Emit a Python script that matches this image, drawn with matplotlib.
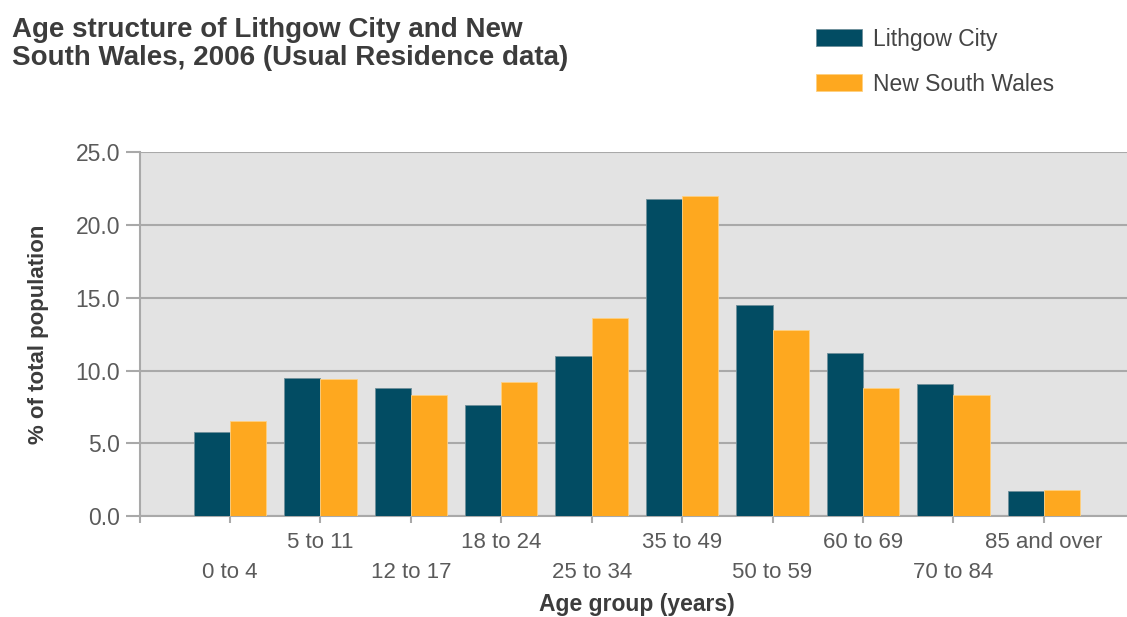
import matplotlib
matplotlib.use("Agg")
import matplotlib.pyplot as plt
import numpy as np
from matplotlib.patches import Patch
from matplotlib.transforms import ScaledTranslation

plt.rcParams["font.family"] = ["Liberation Sans", "DejaVu Sans"]

# ---- data ---------------------------------------------------------------------
age_groups = ["0 to 4", "5 to 11", "12 to 17", "18 to 24", "25 to 34",
              "35 to 49", "50 to 59", "60 to 69", "70 to 84", "85 and over"]
lithgow = [5.8, 9.5, 8.8, 7.6, 11.0, 21.8, 14.5, 11.2, 9.1, 1.7]
nsw = [6.5, 9.4, 8.3, 9.2, 13.6, 22.0, 12.8, 8.8, 8.3, 1.8]
y_ticks = [0, 5, 10, 15, 20, 25]

TEAL = "#024c63"
ORANGE = "#fea81f"
GRID = "#a9a9a9"
TEXT = "#3c3c3c"
TICK_TEXT = "#5a5a5a"

fig = plt.figure(figsize=(11.27, 6.17), dpi=100)
ax = fig.add_axes([0.1238, 0.1637, 0.8762, 0.5895])
ax.set_facecolor("#e3e3e3")

x = np.arange(len(age_groups))
w = 0.4
ax.bar(x - w / 2, lithgow, w, color=TEAL, edgecolor="#6f8f9a", linewidth=0.6, zorder=3)
ax.bar(x + w / 2, nsw, w, color=ORANGE, edgecolor="#ffd080", linewidth=0.6, zorder=3)

ax.set_xlim(-1, 9.92)
ax.set_ylim(0, 25)
ax.set_yticks(y_ticks)
ax.set_yticklabels([f"{v:.1f}" for v in y_ticks])
ax.yaxis.grid(True, color=GRID, linewidth=1.5, zorder=0)
ax.set_axisbelow(True)

for side in ("top", "right"):
    ax.spines[side].set_visible(False)
for side in ("left", "bottom"):
    ax.spines[side].set_color(GRID)
    ax.spines[side].set_linewidth(1.5)

ax.tick_params(axis="y", length=10, width=1.5, color=GRID, pad=4,
               labelsize=16.5, labelcolor=TICK_TEXT)
ax.tick_params(axis="x", length=5, width=1.5, color=GRID, pad=6.5,
               labelsize=16, labelcolor=TICK_TEXT)

# tick at the group centres, labels staggered on two rows
ax.set_xticks(x)
ax.set_xticklabels(age_groups)
ax.set_xticks([-1], minor=True)
ax.tick_params(axis="x", which="minor", length=5, width=1.5, color=GRID)
shift = ScaledTranslation(0, -0.30, fig.dpi_scale_trans)
for i, lbl in enumerate(ax.get_xticklabels()):
    if i % 2 == 0:
        lbl.set_transform(lbl.get_transform() + shift)

ax.set_xlabel("Age group (years)", fontsize=16.5, fontweight="bold", color=TEXT)
ax.xaxis.set_label_coords(0.565, 0.02, transform=fig.transFigure)
ax.xaxis.label.set_va("center")
ax.set_ylabel("% of total population", fontsize=16, fontweight="bold", color=TEXT)
ax.yaxis.set_label_coords(0.034, 0.458, transform=fig.transFigure)
ax.yaxis.label.set_va("center")

fig.text(0.011, 0.973, "Age structure of Lithgow City and New\nSouth Wales, 2006 (Usual Residence data)",
         fontsize=20, fontweight="bold", color=TEXT, va="top", ha="left", linespacing=1.14)

handles = [Patch(facecolor=TEAL, edgecolor="#6f8f9a", linewidth=0.6),
           Patch(facecolor=ORANGE, edgecolor="#ffd080", linewidth=0.6)]
fig.legend(handles, ["Lithgow City", "New South Wales"], loc="upper left",
           bbox_to_anchor=(0.724, 0.955), frameon=False, fontsize=16.5,
           handlelength=2.0, handleheight=0.75, handletextpad=0.5,
           labelspacing=0.95, borderpad=0, borderaxespad=0, labelcolor="#444444")

fig.savefig("out.png", dpi=100)
